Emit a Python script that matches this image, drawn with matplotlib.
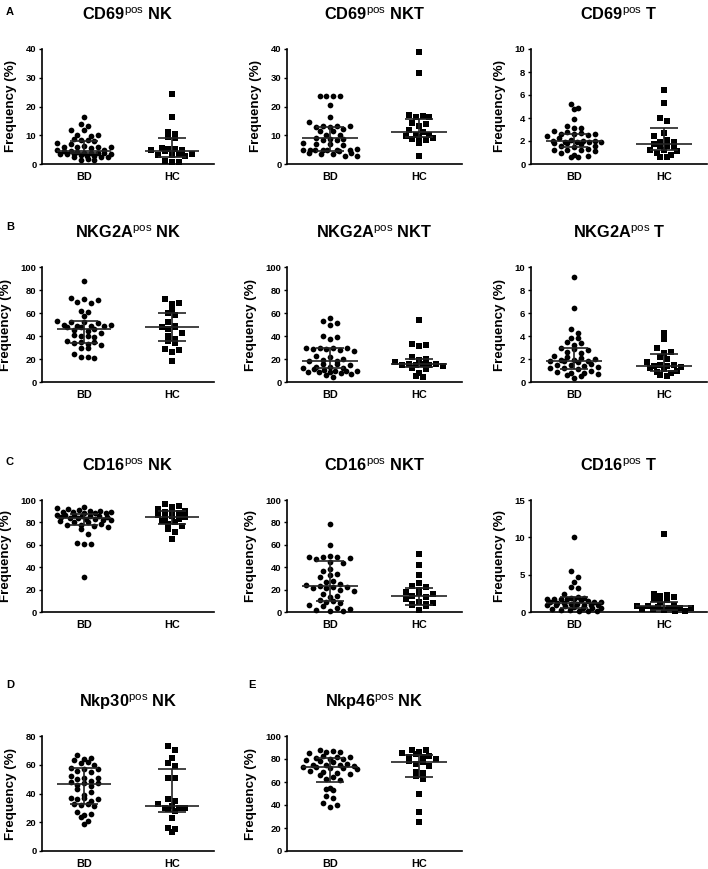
import matplotlib
matplotlib.use('Agg')
import matplotlib.pyplot as plt
import numpy as np

plt.rcParams['font.family'] = ['Liberation Sans', 'DejaVu Sans']
plt.rcParams['mathtext.fontset'] = 'custom'
plt.rcParams['mathtext.rm'] = 'Liberation Sans'
plt.rcParams['mathtext.bf'] = 'Liberation Sans:bold'

groups = ['BD', 'HC']

# values (Frequency %)
cd69_nk_bd = [16.5, 13.8, 13.3, 12.0, 11.8, 10.0, 10.0, 9.8, 8.6, 8.4, 8.3, 8.0, 7.3, 7.1,
              6.1, 6.0, 6.0, 5.9, 5.8, 5.6, 5.0, 4.8, 4.6, 4.5, 4.3, 3.9, 3.8, 3.7, 3.7, 3.6,
              3.6, 3.5, 3.4, 3.3, 2.8, 2.7, 2.6, 2.5, 2.3, 1.8, 1.5, 1.3]
cd69_nk_hc = [24.3, 16.3, 11.2, 10.3, 9.3, 9.0, 5.5, 5.3, 5.2, 5.0, 4.8, 4.5, 3.6, 3.5,
              3.3, 3.0, 2.8, 1.0, 0.8, 0.8]
cd69_nkt_bd = [23.8, 23.7, 23.7, 23.6, 20.5, 16.2, 14.6, 13.3, 13.2, 13.1, 13.0, 12.8, 12.2,
               11.6, 11.5, 10.2, 10.0, 9.2, 8.7, 8.6, 8.5, 8.4, 7.3, 7.1, 7.0, 6.5, 5.2, 5.0,
               5.0, 4.9, 4.9, 4.8, 4.8, 4.7, 4.6, 3.8, 3.7, 3.6, 3.5, 2.8, 2.7]
cd69_nkt_hc = [39.0, 31.7, 17.0, 16.6, 16.4, 16.3, 14.2, 13.8, 13.2, 12.0, 11.3, 10.2, 10.0,
               9.6, 9.3, 9.0, 8.7, 8.5, 7.3, 2.9]
cd69_t_bd = [5.2, 4.9, 4.8, 3.9, 3.3, 3.1, 3.1, 2.9, 2.8, 2.7, 2.6, 2.6, 2.6, 2.5, 2.4, 2.3,
             2.1, 2.0, 2.0, 2.0, 1.9, 1.9, 1.9, 1.9, 1.8, 1.8, 1.7, 1.6, 1.6, 1.5, 1.3, 1.2,
             1.2, 1.2, 1.1, 1.0, 0.8, 0.7, 0.6, 0.6]
cd69_t_hc = [6.4, 5.3, 4.0, 3.7, 2.7, 2.4, 2.1, 1.9, 1.9, 1.7, 1.6, 1.6, 1.5, 1.2, 1.2, 1.1,
             1.0, 0.8, 0.6, 0.6]

nkg2a_nk_bd = [88, 73, 72, 71, 70, 69, 62, 61, 57, 53, 52, 52, 51, 50, 50, 49, 49, 49, 48, 48,
               46, 45, 44, 43, 41, 40, 40, 39, 36, 35, 35, 34, 33, 32, 30, 30, 24, 22, 22, 21]
nkg2a_nk_hc = [72, 69, 68, 63, 60, 58, 52, 49, 48, 47.5, 46, 43, 40, 37, 36, 34, 29, 28, 26, 18]
nkg2a_nkt_bd = [56, 53, 51, 50, 40, 39, 37, 30, 30, 30, 30, 29, 29, 28, 27, 23, 22, 20, 19,
                18.5, 18, 16, 16, 15, 13, 13, 12.5, 12, 11, 10.5, 10, 10, 9.5, 9, 9, 8.5, 8,
                7, 6, 4.5]
nkg2a_nkt_hc = [54, 33, 32, 31, 22, 20, 19, 17, 16, 16, 15.5, 15, 15, 14.5, 14, 12, 11, 8, 5, 4]
nkg2a_t_bd = [9.1, 6.4, 4.6, 4.3, 3.8, 3.8, 3.5, 3.4, 3.2, 3.0, 2.9, 2.8, 2.6, 2.5, 2.3, 2.2,
              2.1, 2.0, 1.9, 1.9, 1.85, 1.8, 1.8, 1.7, 1.6, 1.5, 1.5, 1.4, 1.3, 1.2, 1.2, 1.1,
              1.0, 0.9, 0.8, 0.8, 0.7, 0.6, 0.5, 0.35]
nkg2a_t_hc = [4.3, 3.7, 3.0, 2.6, 2.5, 2.2, 2.0, 1.7, 1.5, 1.45, 1.4, 1.4, 1.3, 1.2, 1.1, 1.0,
              0.9, 0.8, 0.6, 0.5]

cd16_nk_bd = [94, 93, 92, 91, 90, 90, 89, 89, 89, 88, 88, 88, 87, 87, 87, 86, 86, 86, 85, 85,
              84, 84, 83, 83, 82, 82, 81, 80, 80, 79, 78, 78, 77, 76, 74, 70, 62, 61, 61, 31]
cd16_nk_hc = [96, 95, 94, 92, 91, 90, 89, 88, 87, 86, 85, 84, 83, 81, 80, 79, 77, 74, 71, 65]
cd16_nkt_bd = [79, 60, 50, 49, 49, 49, 48, 47, 45, 44, 38, 37, 34, 33, 31, 28, 27, 25, 24, 23,
               22, 22, 21, 21, 20, 19, 16, 14, 13, 11, 10, 9, 8, 6, 5, 4, 3, 2, 1, 1]
cd16_nkt_hc = [52, 42, 33, 26, 23, 22, 20, 18, 17, 16, 14, 13, 12, 9, 8, 7, 7, 6, 5, 2]
cd16_t_bd = [10.0, 5.5, 4.7, 4.0, 3.3, 3.2, 2.4, 2.0, 1.9, 1.9, 1.8, 1.8, 1.8, 1.7, 1.7, 1.6,
             1.5, 1.4, 1.3, 1.3, 1.2, 1.2, 1.1, 1.1, 1.0, 1.0, 1.0, 0.9, 0.9, 0.8, 0.7, 0.6,
             0.5, 0.5, 0.4, 0.3, 0.3, 0.2, 0.2, 0.1]
cd16_t_hc = [10.5, 2.4, 2.3, 2.1, 2.0, 1.7, 1.6, 1.3, 1.0, 0.8, 0.75, 0.7, 0.6, 0.5, 0.5, 0.4,
             0.4, 0.3, 0.2, 0.1]

nkp30_nk_bd = [67, 65, 64, 63, 62, 61, 60, 58, 57, 57, 56, 55, 52, 51, 51, 50, 49, 48, 47, 47,
               46, 45, 43, 41, 39, 37, 37, 36, 36, 35, 33, 33, 32, 31, 27, 26, 25, 24, 21, 19]
nkp30_nk_hc = [73, 70, 65, 61, 59, 51, 51, 36, 35, 33, 31, 30, 30, 30, 29, 28, 23, 16, 15, 13]
nkp46_nk_bd = [88, 87, 86, 86, 85, 83, 82, 82, 81, 80, 80, 79, 78, 77, 76, 75, 75, 75, 74, 73,
               73, 72, 72, 71, 70, 69, 68, 67, 66, 64, 63, 62, 55, 54, 53, 48, 46, 42, 40, 38]
nkp46_nk_hc = [88, 88, 86, 85, 84, 83, 82, 82, 80, 78, 77, 76, 74, 69, 68, 65, 63, 50, 34, 25]

# median, 25th, 75th percentile lines as drawn in the picture
stats_bd = [(4.6, 3.7, 8.0), (9.1, 4.6, 13.0), (2.0, 1.5, 2.65),
            (45.7, 34, 53), (18.2, 11.8, 29.5), (1.83, 1.15, 3.0),
            (84.2, 77.6, 87.2), (23, 9.6, 45.7), (1.2, 0.55, 2.0),
            (46.6, 32.7, 57.7), (72.8, 60, 80.6)]
stats_hc = [(4.5, 2.6, 9.0), (11.3, 9.3, 15.8), (1.75, 1.2, 3.15),
            (47.4, 35.3, 60.1), (15.9, 12.7, 20.2), (1.42, 1.0, 2.4),
            (85, 79, 90), (14, 6.6, 21.8), (0.75, 0.3, 1.3),
            (31.5, 27.4, 56.8), (77.4, 64.6, 83.5)]

titles = [('CD69', 'NK'), ('CD69', 'NKT'), ('CD69', 'T'),
          ('NKG2A', 'NK'), ('NKG2A', 'NKT'), ('NKG2A', 'T'),
          ('CD16', 'NK'), ('CD16', 'NKT'), ('CD16', 'T'),
          ('Nkp30', 'NK'), ('Nkp46', 'NK')]
bd_sets = [cd69_nk_bd, cd69_nkt_bd, cd69_t_bd, nkg2a_nk_bd, nkg2a_nkt_bd, nkg2a_t_bd,
           cd16_nk_bd, cd16_nkt_bd, cd16_t_bd, nkp30_nk_bd, nkp46_nk_bd]
hc_sets = [cd69_nk_hc, cd69_nkt_hc, cd69_t_hc, nkg2a_nk_hc, nkg2a_nkt_hc, nkg2a_t_hc,
           cd16_nk_hc, cd16_nkt_hc, cd16_t_hc, nkp30_nk_hc, nkp46_nk_hc]
y_max = [40, 40, 10, 100, 100, 10, 100, 100, 15, 80, 100]
y_step = [10, 10, 2, 20, 20, 2, 20, 20, 5, 20, 20]

W, H = 708, 869
XLIM = (-0.48, 1.48)
fig = plt.figure(figsize=(W / 100, H / 100), dpi=100)

# axes boxes in pixels: (left, top, right, bottom)
cols = [(42, 214), (287, 462), (531, 707)]
rows = [(49, 164), (267, 382), (500, 612), (736, 851)]
boxes = []
for r in range(4):
    for c in range(3):
        if r == 3 and c == 2:
            continue
        boxes.append((cols[c][0], rows[r][0], cols[c][1], rows[r][1]))


def rows_spread(vals, ymax, h_px, w_px, bin_px=7.0, dx_px=6.8, max_w=54.0):
    # Prism-like scatter: values falling in the same band sit side by side,
    # crowded bands get squeezed so they keep about the same width
    vals = np.asarray(vals, dtype=float)
    bins = np.floor(vals / ymax * h_px / bin_px).astype(int)
    x = np.zeros(len(vals))
    for bv in np.unique(bins):
        idx = np.where(bins == bv)[0]
        idx = idx[np.argsort(-vals[idx])]
        n = len(idx)
        if n == 1:
            continue
        step = min(dx_px, max_w / (n - 1))
        pos = (np.arange(n) - (n - 1) / 2) * step
        slots = list(range(0, n, 2)) + list(range(1, n, 2))
        x[idx] = pos[slots]
    return x / (w_px / (XLIM[1] - XLIM[0]))


for i in range(11):
    l, t, r, b = boxes[i]
    ax = fig.add_axes([l / W, 1 - b / H, (r - l) / W, (b - t) / H])

    for k, (vals, mk, sz) in enumerate([(bd_sets[i], 'o', 17), (hc_sets[i], 's', 14)]):
        xo = rows_spread(vals, y_max[i], b - t, r - l)
        ax.scatter(k + xo, vals, marker=mk, s=sz, color='black', linewidths=0,
                   clip_on=False, zorder=2)

    for k, st in enumerate([stats_bd[i], stats_hc[i]]):
        med, q1, q3 = st
        ax.hlines(med, k - 0.31, k + 0.31, color='#222222', lw=1.2, zorder=3)
        ax.vlines(k, q1, q3, color='#222222', lw=1.2, zorder=3)
        ax.hlines([q1, q3], k - 0.16, k + 0.16, color='#222222', lw=1.2, zorder=3)

    ax.set_xlim(*XLIM)
    ax.set_ylim(0, y_max[i])
    ax.set_yticks(np.arange(0, y_max[i] + 1, y_step[i]))
    ax.set_xticks([0, 1])
    ax.set_xticklabels(groups, fontsize=7.8, fontweight='bold')
    for lab in ax.get_yticklabels():
        lab.set_fontweight('bold')
        lab.set_fontsize(6.8)
    ax.tick_params(axis='x', length=0, pad=6)
    ax.tick_params(axis='y', length=2.5, width=1, pad=1.5)
    ax.spines['top'].set_visible(False)
    ax.spines['right'].set_visible(False)
    ax.spines['left'].set_linewidth(1.2)
    ax.spines['bottom'].set_linewidth(1.2)
    ax.set_ylabel('Frequency (%)', fontsize=9.6, fontweight='bold', labelpad=6)
    ax.set_title(titles[i][0] + r'$^{\mathrm{pos}}$ ' + titles[i][1],
                 fontsize=11.8, fontweight='bold', pad=21)

letters = [('A', 6, 12), ('B', 6, 227), ('C', 6, 462), ('D', 6, 685), ('E', 248, 685)]
for txt, x, y in letters:
    fig.text(x / W, 1 - y / H, txt, fontsize=8, fontweight='bold', ha='left', va='center')

fig.savefig('out.png', dpi=100)
